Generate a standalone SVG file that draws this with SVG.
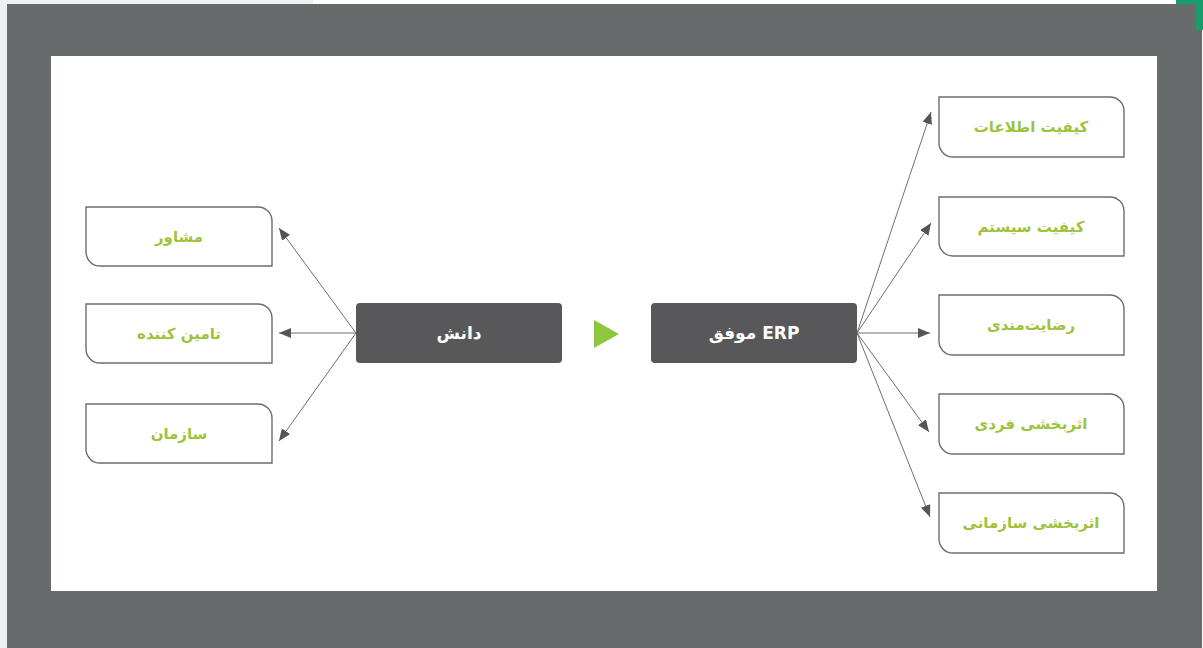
<svg xmlns="http://www.w3.org/2000/svg" width="1203" height="648" viewBox="0 0 1203 648">
<style>
.box{fill:#fff;stroke:#6d6d6d;stroke-width:1.4}
.dark{fill:#58585a}
.t{font-family:"DejaVu Sans",sans-serif;font-weight:bold;font-size:15px;fill:#9dc33a;text-anchor:middle;direction:rtl}
.tw{font-family:"DejaVu Sans",sans-serif;font-weight:bold;font-size:17px;fill:#ffffff;text-anchor:middle;direction:rtl}
.c{stroke:#6f6f6f;stroke-width:1;fill:none;marker-end:url(#ah)}
</style>
<defs>
<marker id="ah" viewBox="0 0 12 10" refX="12" refY="5" markerWidth="12" markerHeight="10" markerUnits="userSpaceOnUse" orient="auto">
<path d="M0,0 L12,5 L0,10 Z" fill="#555"/>
</marker>
</defs>
<rect x="0" y="0" width="1203" height="648" fill="#ffffff"/>
<rect x="0" y="0" width="313" height="648" fill="#eff0f2"/>
<rect x="0" y="0" width="7" height="648" fill="#eff0f2"/>
<rect x="1176" y="0" width="27" height="30" fill="#1a9b6c"/>
<rect x="7" y="4" width="1189" height="644" fill="#676b6b"/>
<rect x="1196" y="30" width="6" height="618" fill="#676b6b"/>
<rect x="51" y="56" width="1106" height="535" fill="#ffffff"/>

<g id="connectors">
<line class="c" x1="356" y1="333" x2="279" y2="228"/>
<line class="c" x1="356" y1="333" x2="279" y2="333"/>
<line class="c" x1="356" y1="333" x2="279" y2="441"/>
<line class="c" x1="857" y1="333" x2="931" y2="112"/>
<line class="c" x1="857" y1="333" x2="931" y2="223"/>
<line class="c" x1="857" y1="333" x2="930" y2="333"/>
<line class="c" x1="857" y1="333" x2="929" y2="432"/>
<line class="c" x1="857" y1="333" x2="930" y2="517"/>
<path d="M594,320 L619,334 L594,348 Z" fill="#8dc63f"/>
</g>

<g id="n-moshaver">
<path class="box" d="M86,207 H258 A14,14 0 0 1 272,221 V266 H100 A14,14 0 0 1 86,252 Z"/>
<text class="t" x="179" y="242">مشاور</text>
</g>
<g id="n-tamin">
<path class="box" d="M86,304 H258 A14,14 0 0 1 272,318 V363 H100 A14,14 0 0 1 86,349 Z"/>
<text class="t" x="179" y="339">تامین کننده</text>
</g>
<g id="n-sazman">
<path class="box" d="M86,404 H258 A14,14 0 0 1 272,418 V463 H100 A14,14 0 0 1 86,449 Z"/>
<text class="t" x="179" y="439">سازمان</text>
</g>

<g id="n-danesh">
<rect class="dark" x="356" y="303" width="206" height="60" rx="4"/>
<text class="tw" x="459" y="339">دانش</text>
</g>
<g id="n-erp">
<rect class="dark" x="651" y="303" width="206" height="60" rx="4"/>
<text class="tw" x="754" y="339">ERP موفق</text>
</g>

<g id="n-info">
<path class="box" d="M939,97 H1110 A14,14 0 0 1 1124,111 V157 H953 A14,14 0 0 1 939,143 Z"/>
<text class="t" x="1031" y="132">کیفیت اطلاعات</text>
</g>
<g id="n-system">
<path class="box" d="M939,197 H1110 A14,14 0 0 1 1124,211 V256 H953 A14,14 0 0 1 939,242 Z"/>
<text class="t" x="1031" y="232">کیفیت سیستم</text>
</g>
<g id="n-satisfaction">
<path class="box" d="M939,295 H1110 A14,14 0 0 1 1124,309 V355 H953 A14,14 0 0 1 939,341 Z"/>
<text class="t" x="1031" y="330">رضایت‌مندی</text>
</g>
<g id="n-individual">
<path class="box" d="M939,394 H1110 A14,14 0 0 1 1124,408 V454 H953 A14,14 0 0 1 939,440 Z"/>
<text class="t" x="1031" y="429">اثربخشی فردی</text>
</g>
<g id="n-org">
<path class="box" d="M939,493 H1110 A14,14 0 0 1 1124,507 V553 H953 A14,14 0 0 1 939,539 Z"/>
<text class="t" x="1031" y="528">اثربخشی سازمانی</text>
</g>
</svg>
